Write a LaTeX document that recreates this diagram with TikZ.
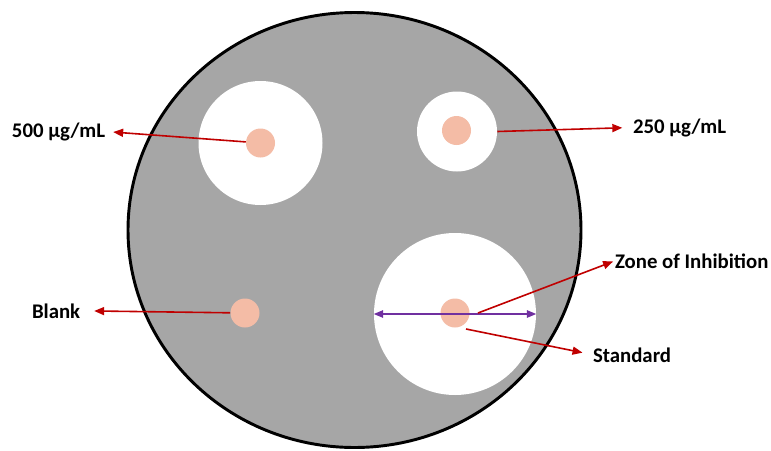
\documentclass[tikz,border=0pt]{standalone}
\usepackage{fontspec}
\setmainfont{Carlito}
\usetikzlibrary{arrows.meta,shapes.geometric}
\definecolor{dishgray}{HTML}{A6A6A6}
\definecolor{diskpink}{HTML}{F4BCA6}
\definecolor{arrred}{HTML}{C00000}
\definecolor{zonepurple}{HTML}{7030A0}
\tikzset{
  dish/.style={ellipse, draw=black, line width=2.2pt, fill=dishgray, inner sep=0pt,
    minimum width=339.75pt, minimum height=326.25pt},
  zone/.style={circle, fill=white, inner sep=0pt},
  disk/.style={circle, fill=diskpink, inner sep=0pt, minimum size=21.75pt},
  lbl/.style={inner sep=0pt, outer sep=0pt, font=\fontsize{15.6}{18}\selectfont\bfseries},
  arr/.style={-{Triangle[length=7.5pt,width=6pt]}, line width=1.2pt, draw=arrred},
  darr/.style={{Triangle[length=7pt,width=5.5pt]}-{Triangle[length=7pt,width=5.5pt]},
    line width=1.2pt, draw=zonepurple}
}

\begin{document}
\begin{tikzpicture}[x=0.75pt, y=-0.75pt]
  \useasboundingbox (0,0) rectangle (771,450);

  % petri dish
  \node[dish] (dish) at (354.5,230) {};

  % zones of inhibition
  \node[zone, minimum size=93pt] (z500) at (260.5,143) {};
  \node[zone, minimum size=60pt] (z250) at (457,131.5) {};
  \node[zone, minimum size=121.5pt] (zstd) at (455,314) {};

  % wells
  \node[disk] (p500) at (260.5,143) {};
  \node[disk] (p250) at (456.5,130.5) {};
  \node[disk] (pstd) at (455,313) {};
  \node[disk] (pblank) at (245,313) {};

  \draw[darr] (zstd.west) -- (zstd.east);

  % labels
  \node[lbl, anchor=base west] (l500) at (12,137) {500 µg/mL};
  \node[lbl, anchor=base west] (l250) at (633,133) {250 µg/mL};
  \node[lbl, anchor=base west] (lzone) at (615,268) {Zone of Inhibition};
  \node[lbl, anchor=base west] (lstd) at (593,362) {Standard};
  \node[lbl, anchor=base west] (lblank) at (32,318) {Blank};

  \coordinate (zs) at (478,313);
  \coordinate (ss) at (466,329);

  \draw[arr, shorten >=6pt] (p500) -- (l500.east);
  \draw[arr, shorten >=8pt] (z250.east) -- (l250.west);
  \draw[arr, shorten >=1.5pt] (zs) -- (lzone.west);
  \draw[arr, shorten >=8pt] (ss) -- (lstd.west);
  \draw[arr, shorten >=10.5pt] (pblank) -- (lblank.east);
\end{tikzpicture}
\end{document}
